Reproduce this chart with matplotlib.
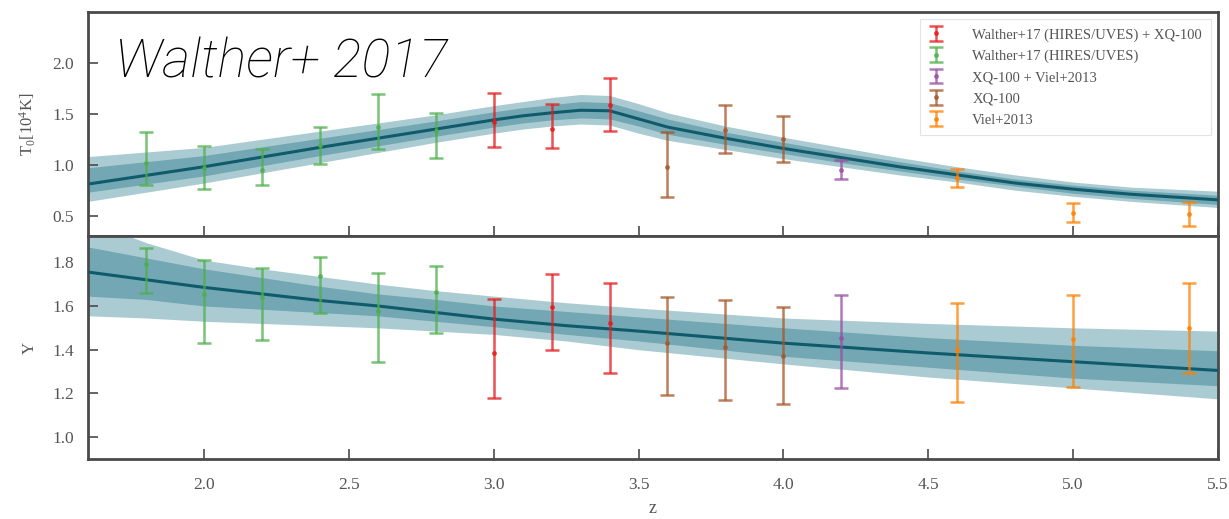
import matplotlib
matplotlib.use("Agg")
import matplotlib.pyplot as plt
import numpy as np

plt.rcParams["font.family"] = ["Liberation Serif", "DejaVu Serif"]
plt.rcParams["mathtext.fontset"] = "custom"
plt.rcParams["mathtext.rm"] = "Liberation Serif"
plt.rcParams["mathtext.it"] = "Liberation Serif:italic"

# ---- measurements: T0 [1e4 K] ----
sets = ["Walther+17 (HIRES/UVES) + XQ-100", "Walther+17 (HIRES/UVES)",
        "XQ-100 + Viel+2013", "XQ-100", "Viel+2013"]
set_colors = ["#e41a1c", "#4daf4a", "#984ea3", "#a65628", "#ff7f00"]

z_green = [1.8, 2.0, 2.2, 2.4, 2.6, 2.8]
z_red = [3.0, 3.2, 3.4]
z_purple = [4.2]
z_brown = [3.6, 3.8, 4.0]
z_orange = [4.6, 5.0, 5.4]

t0_green = [1.02, 0.97, 0.95, 1.19, 1.37, 1.33]
t0_green_lo = [0.80, 0.76, 0.80, 1.01, 1.15, 1.07]
t0_green_hi = [1.32, 1.18, 1.15, 1.37, 1.69, 1.51]
t0_red = [1.42, 1.35, 1.59]
t0_red_lo = [1.17, 1.16, 1.33]
t0_red_hi = [1.70, 1.60, 1.85]
t0_purple = [0.95]
t0_purple_lo = [0.86]
t0_purple_hi = [1.05]
t0_brown = [0.98, 1.34, 1.25]
t0_brown_lo = [0.68, 1.12, 1.03]
t0_brown_hi = [1.32, 1.59, 1.48]
t0_orange = [0.87, 0.53, 0.52]
t0_orange_lo = [0.78, 0.44, 0.40]
t0_orange_hi = [0.96, 0.62, 0.63]

# ---- measurements: gamma ----
g_green = [1.79, 1.655, 1.64, 1.735, 1.575, 1.665]
g_green_lo = [1.66, 1.43, 1.445, 1.57, 1.345, 1.477]
g_green_hi = [1.865, 1.81, 1.775, 1.825, 1.75, 1.785]
g_red = [1.385, 1.595, 1.52]
g_red_lo = [1.18, 1.40, 1.295]
g_red_hi = [1.63, 1.745, 1.705]
g_purple = [1.455]
g_purple_lo = [1.225]
g_purple_hi = [1.65]
g_brown = [1.43, 1.41, 1.37]
g_brown_lo = [1.195, 1.17, 1.15]
g_brown_hi = [1.64, 1.625, 1.595]
g_orange = [1.40, 1.45, 1.50]
g_orange_lo = [1.16, 1.23, 1.295]
g_orange_hi = [1.615, 1.65, 1.705]

# ---- fitted thermal history model: median with 68% and 95% bands ----
z_t0_model = [1.6, 2.0, 2.4, 2.8, 3.0, 3.1, 3.2, 3.3, 3.4, 3.5, 3.6, 3.8,
              4.0, 4.2, 4.4, 4.6, 4.8, 5.0, 5.2, 5.5]
t0_med = [0.81, 0.98, 1.17, 1.35, 1.44, 1.48, 1.51, 1.535, 1.53, 1.45, 1.37,
          1.26, 1.16, 1.07, 0.98, 0.90, 0.82, 0.76, 0.71, 0.655]
t0_95_lo = [0.64, 0.82, 1.02, 1.22, 1.31, 1.35, 1.38, 1.40, 1.39, 1.31, 1.24,
            1.15, 1.06, 0.98, 0.90, 0.83, 0.75, 0.69, 0.64, 0.58]
t0_95_hi = [1.08, 1.17, 1.33, 1.49, 1.58, 1.62, 1.66, 1.69, 1.68, 1.60, 1.51,
            1.38, 1.27, 1.17, 1.07, 0.98, 0.90, 0.83, 0.78, 0.74]
t0_68_lo = [0.73, 0.89, 1.09, 1.28, 1.37, 1.41, 1.44, 1.46, 1.45, 1.38, 1.30,
            1.20, 1.11, 1.02, 0.94, 0.86, 0.79, 0.72, 0.67, 0.61]
t0_68_hi = [0.97, 1.09, 1.26, 1.43, 1.52, 1.56, 1.59, 1.62, 1.61, 1.53, 1.45,
            1.32, 1.22, 1.12, 1.03, 0.94, 0.86, 0.80, 0.75, 0.70]

z_g_model = [1.6, 1.8, 2.0, 2.2, 2.4, 2.6, 2.8, 3.0, 3.25, 3.5, 4.0, 4.5, 5.0, 5.5]
g_med = [1.755, 1.72, 1.685, 1.655, 1.625, 1.60, 1.57, 1.54, 1.51, 1.485,
         1.43, 1.385, 1.345, 1.305]
g_95_lo = [1.555, 1.545, 1.53, 1.52, 1.51, 1.50, 1.485, 1.47, 1.44, 1.40,
           1.335, 1.275, 1.225, 1.175]
g_95_hi = [1.99, 1.89, 1.81, 1.77, 1.735, 1.70, 1.67, 1.645, 1.615, 1.59,
           1.545, 1.52, 1.50, 1.485]
g_68_lo = [1.645, 1.63, 1.60, 1.585, 1.57, 1.555, 1.53, 1.505, 1.47, 1.44,
           1.37, 1.32, 1.27, 1.235]
g_68_hi = [1.87, 1.82, 1.77, 1.73, 1.69, 1.655, 1.63, 1.60, 1.575, 1.55,
           1.50, 1.455, 1.42, 1.395]

band_outer = "#aacbd2"
band_inner = "#72a7b3"
line_col = "#0f5b6b"
spine_col = "#4a4a4a"
text_col = "#555555"

W, H = 1229, 519
fig = plt.figure(figsize=(W / 100, H / 100), dpi=100)
left, right = 88 / W, 1218 / W
ax_t = fig.add_axes([left, 1 - 236 / H, right - left, (236 - 12) / H])
ax_g = fig.add_axes([left, 1 - 459 / H, right - left, (459 - 236) / H])

groups = [
    (z_red, 0), (z_green, 1), (z_purple, 2), (z_brown, 3), (z_orange, 4)]
t0_vals = [(t0_red, t0_red_lo, t0_red_hi), (t0_green, t0_green_lo, t0_green_hi),
           (t0_purple, t0_purple_lo, t0_purple_hi),
           (t0_brown, t0_brown_lo, t0_brown_hi),
           (t0_orange, t0_orange_lo, t0_orange_hi)]
g_vals = [(g_red, g_red_lo, g_red_hi), (g_green, g_green_lo, g_green_hi),
          (g_purple, g_purple_lo, g_purple_hi),
          (g_brown, g_brown_lo, g_brown_hi),
          (g_orange, g_orange_lo, g_orange_hi)]


def draw_model(ax, zz, med, lo95, hi95, lo68, hi68):
    ax.fill_between(zz, lo95, hi95, color=band_outer, lw=0, zorder=1)
    ax.fill_between(zz, lo68, hi68, color=band_inner, lw=0, zorder=2)
    ax.plot(zz, med, color=line_col, lw=2.2, zorder=3)


def draw_points(ax, vals):
    for (zs, idx), (v, lo, hi) in zip(groups, vals):
        v = np.array(v)
        err = [v - np.array(lo), np.array(hi) - v]
        ax.errorbar(zs, v, yerr=err, fmt="o", ms=2.5, color=set_colors[idx],
                    ecolor=set_colors[idx], elinewidth=1.8, capsize=5,
                    capthick=1.8, alpha=0.75, label=sets[idx], zorder=5)


draw_model(ax_t, z_t0_model, t0_med, t0_95_lo, t0_95_hi, t0_68_lo, t0_68_hi)
draw_points(ax_t, t0_vals)
draw_model(ax_g, z_g_model, g_med, g_95_lo, g_95_hi, g_68_lo, g_68_hi)
draw_points(ax_g, g_vals)

ax_t.set_ylim(0.3, 2.5)
ax_t.set_yticks([0.5, 1.0, 1.5, 2.0])
ax_g.set_ylim(0.9, 1.92)
ax_g.set_yticks([1.0, 1.2, 1.4, 1.6, 1.8])
xticks = [2.0, 2.5, 3.0, 3.5, 4.0, 4.5, 5.0, 5.5]
for ax in (ax_t, ax_g):
    ax.set_xlim(1.6, 5.5)
    ax.set_xticks(xticks)
    ax.tick_params(direction="in", length=7, width=1.2, colors=spine_col,
                   labelcolor=text_col, labelsize=12.5)
    ax.tick_params(axis="y", pad=10)
    ax.tick_params(axis="x", pad=13)
    for sp in ax.spines.values():
        sp.set_color(spine_col)
        sp.set_linewidth(2.0)
ax_t.tick_params(axis="x", labelbottom=False)
ax_g.set_xticklabels([f"{v:.1f}" for v in xticks])

ax_t.set_ylabel(r"T$_0$[10$^4$K]", fontsize=12, color=text_col)
ax_g.set_ylabel("Y", fontsize=12, color=text_col)
ax_g.set_xlabel("z", fontsize=13, color=text_col, labelpad=5)
ax_t.yaxis.set_label_coords(-0.044, 0.5)
ax_g.yaxis.set_label_coords(-0.044, 0.5)

leg = ax_t.legend(loc="upper right", fontsize=10.5, frameon=True,
                  fancybox=False, edgecolor="#dddddd", borderaxespad=0.5,
                  labelspacing=0.55, handlelength=1.0, borderpad=0.6,
                  handletextpad=2.0)
leg.get_frame().set_linewidth(0.8)
for t in leg.get_texts():
    t.set_color("#555555")

fig.text(115 / W, 1 - 78 / H, "Walther+ 2017", fontsize=39, style="italic",
         family=["Roboto", "DejaVu Sans"], weight="light", color="black")

fig.savefig("out.png", dpi=100)
